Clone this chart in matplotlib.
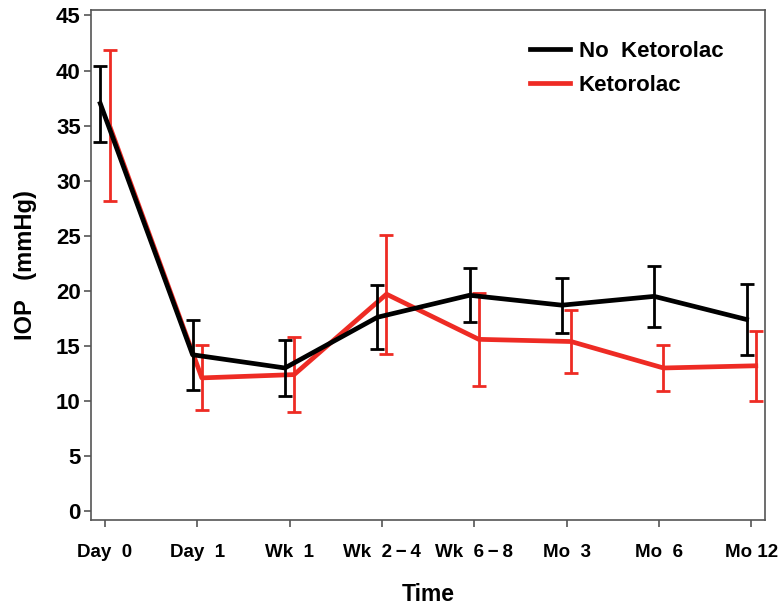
import numpy as np
import matplotlib
matplotlib.use("Agg")
import matplotlib.pyplot as plt

plt.rcParams['font.family'] = ['Liberation Sans', 'DejaVu Sans']
plt.rcParams['font.weight'] = 'bold'

# data
time_labels = ["Day  0", "Day  1", "Wk  1", "Wk  2\u2009\u2212\u20094", "Wk  6\u2009\u2212\u20098",
               "Mo  3", "Mo  6", "Mo 12"]
no_ket = [37.0, 14.2, 13.0, 17.6, 19.6, 18.7, 19.5, 17.4]
no_ket_err = [3.45, 3.2, 2.5, 2.9, 2.45, 2.5, 2.75, 3.2]
ket = [35.0, 12.1, 12.4, 19.7, 15.6, 15.4, 13.0, 13.2]
ket_err = [6.85, 2.95, 3.4, 5.4, 4.25, 2.9, 2.1, 3.2]

red = "#ee2b24"
x = np.arange(len(time_labels))
dodge = 0.05

fig = plt.figure(figsize=(7.83, 6.08), dpi=100)
ax = fig.add_axes([0.1157, 0.1447, 0.8613, 0.839])

ax.errorbar(x - dodge, no_ket, yerr=no_ket_err, color="black", lw=3.4,
            elinewidth=2, capsize=5, capthick=2, label="No  Ketorolac", zorder=3)
ax.errorbar(x + dodge, ket, yerr=ket_err, color=red, lw=3.4,
            elinewidth=2, capsize=5, capthick=2, label="Ketorolac", zorder=2)

ax.set_xlim(-0.155, 7.15)
ax.set_ylim(-0.8, 45.5)
ax.set_yticks(range(0, 46, 5))
ax.set_xticks(x)
ax.set_xticklabels(time_labels, fontsize=13.5, fontweight='bold')
for lab in ax.get_yticklabels():
    lab.set_fontsize(16)
    lab.set_fontweight('bold')

for s in ax.spines.values():
    s.set_color("#555555")
    s.set_linewidth(1.2)
ax.tick_params(axis='both', colors="#555555", length=5, width=1.2, labelcolor="black")
ax.tick_params(axis='x', pad=12)
ax.tick_params(axis='y', pad=2)

ax.set_xlabel("Time", fontsize=16.5, fontweight='bold', labelpad=16)
ax.set_ylabel("IOP   (mmHg)", fontsize=17, fontweight='bold', labelpad=14)

h, l = ax.get_legend_handles_labels()
h = [hh[0] for hh in h]
ax.legend(h, l, loc='upper left', bbox_to_anchor=(530 / 783, 1 - 41 / 608),
          bbox_transform=fig.transFigure, frameon=False,
          prop={'size': 16, 'weight': 'bold'}, handlelength=1.8, handletextpad=0.4,
          labelspacing=0.58, borderpad=0, borderaxespad=0)

fig.savefig("out.png", dpi=100)
